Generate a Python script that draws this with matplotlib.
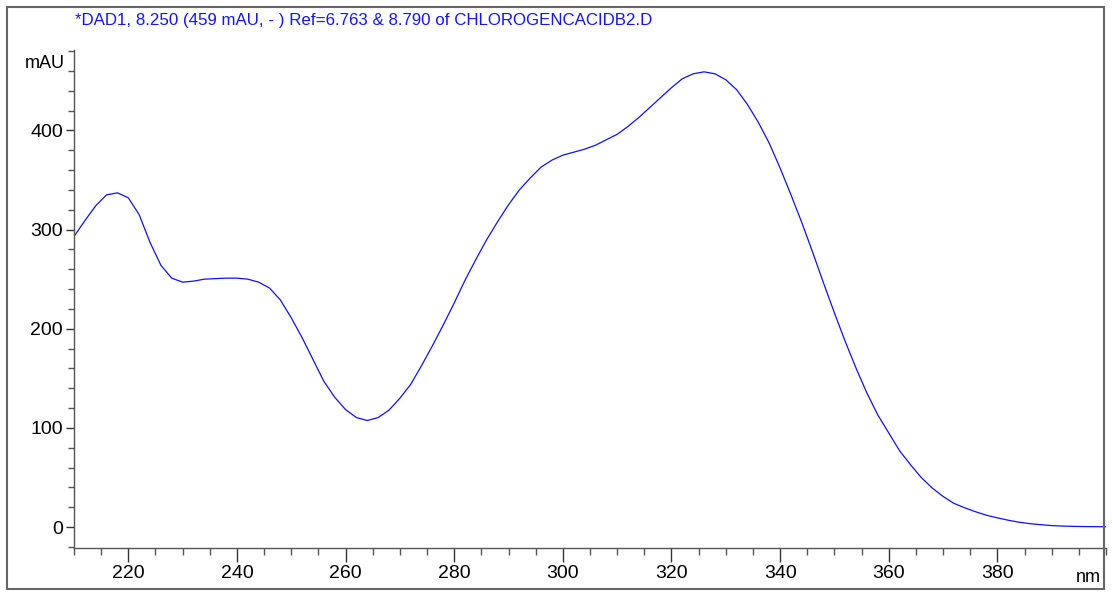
import numpy as np
import matplotlib.pyplot as plt
from matplotlib.patches import Rectangle
from matplotlib.ticker import MultipleLocator

# UV spectrum, 2 nm steps
wavelength = np.arange(210, 402, 2)
absorb = [293, 309, 324, 335, 337, 332, 315, 287, 264, 251,
          247, 248, 250, 250.5, 251, 251, 250, 247, 241, 229,
          211, 191, 169, 147, 131, 118.5, 110.5, 107.5, 110.5, 118,
          130, 144, 163, 183, 204, 226, 249, 270, 290, 308,
          325, 340, 352, 363, 370, 375, 378, 381, 385, 390.5,
          396, 404, 413, 423, 433, 443, 452, 457, 459, 457,
          451, 441, 426, 408, 387, 362, 335, 307, 277, 246,
          216, 187, 160, 135, 113, 95, 77, 63, 50, 39.5,
          31, 24, 19.5, 15.5, 12, 9.4, 7, 5, 3.5, 2.5,
          1.6, 1.1, 0.8, 0.6, 0.5, 0.4]

title = "*DAD1, 8.250 (459 mAU, - ) Ref=6.763 & 8.790 of CHLOROGENCACIDB2.D"
xticks = [220, 240, 260, 280, 300, 320, 340, 360, 380]
yticks = [0, 100, 200, 300, 400]

plt.rcParams['font.family'] = ['Liberation Sans', 'DejaVu Sans']

fig = plt.figure(figsize=(11.13, 5.92), dpi=100)
ax = fig.add_axes([74 / 1113, 44 / 592, (1106 - 74) / 1113, (548 - 50) / 592])

ax.plot(wavelength, absorb, color='#1010ff', lw=0.9)
ax.set_xlim(210, 400)
ax.set_ylim(-21, 481)

for s in ['top', 'right']:
    ax.spines[s].set_visible(False)
for s in ['left', 'bottom']:
    ax.spines[s].set_color('#555555')
    ax.spines[s].set_linewidth(1.0)

ax.set_xticks(xticks)
ax.set_yticks(yticks)
ax.xaxis.set_minor_locator(MultipleLocator(5))
ax.yaxis.set_minor_locator(MultipleLocator(20))
ax.tick_params(axis='x', which='major', length=10, width=1.0, color='#333333',
               labelsize=14, pad=2)
ax.tick_params(axis='x', which='minor', length=5, width=1.0, color='#555555')
ax.tick_params(axis='y', which='major', length=6, width=1.0, color='#333333',
               labelsize=14, pad=2)
ax.tick_params(axis='y', which='minor', length=4, width=1.0, color='#555555')

fig.text(45 / 1113, 1 - 63 / 592, 'mAU', fontsize=13, ha='center', va='center')
fig.text(1101 / 1113, 1 - 578 / 592, 'nm', fontsize=13, ha='right', va='center')
fig.text(75 / 1113, 1 - 21 / 592, title, fontsize=12.2, color='#1515ff',
         ha='left', va='center')

# outer frame of the report page
fig.patches.append(Rectangle((7 / 1113, 3 / 592), (1104 - 7) / 1113, (587 - 5) / 592,
                             transform=fig.transFigure, fill=False,
                             edgecolor='#666666', lw=1.5))

fig.savefig('out.png', dpi=100)
